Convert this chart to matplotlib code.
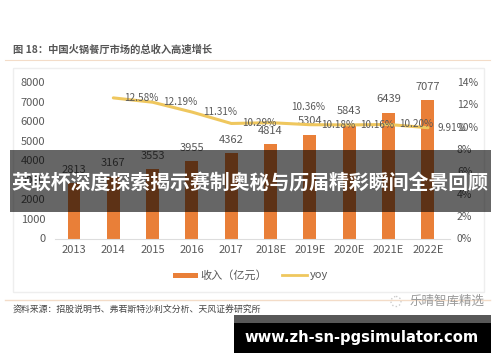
import matplotlib
matplotlib.use('Agg')
import matplotlib.pyplot as plt
from matplotlib.patches import Rectangle

plt.rcParams['font.family'] = ['Noto Sans CJK SC', 'DejaVu Sans']

years = ['2013', '2014', '2015', '2016', '2017', '2018E', '2019E', '2020E', '2021E', '2022E']
revenue = [2813, 3167, 3553, 3955, 4362, 4814, 5304, 5843, 6439, 7077]
yoy_years = years[1:]
yoy = [12.58, 12.19, 11.31, 10.29, 10.36, 10.18, 10.16, 10.20, 9.91]
# label offset from each line point, in points (the labels sit beside the line)
yoy_label_offsets = [(20, 0), (20, 0), (20, 0), (20, 0), (27, 11.5), (20, 0), (20, 0), (20, 0), (17, 0)]

W, H = 500, 362
TEXT = '#595959'
BAR = '#E97F38'
LINE = '#EFC75E'
PEACH = '#F3DCC8'

fig = plt.figure(figsize=(W / 100, H / 100), dpi=100, facecolor='white')

# main chart, placed by pixels
ax = fig.add_axes([55 / W, (H - 238.5) / H, 395 / W, 156.5 / H])
xs = list(range(len(years)))
ax.bar(xs, revenue, width=0.33, color=BAR)
for x, v in zip(xs, revenue):
    ax.annotate(str(v), (x, v), xytext=(0, 6), textcoords='offset points',
                ha='center', va='bottom', fontsize=8, color=TEXT)
ax.set_xlim(-0.483, 9.56)
ax.set_ylim(0, 8000)
ax.set_yticks(range(0, 8001, 1000))
ax.set_xticks(xs)
ax.set_xticklabels(years)
ax.tick_params(axis='y', length=0, pad=7, labelsize=8, labelcolor=TEXT)
ax.tick_params(axis='x', length=0, pad=5, labelsize=8, labelcolor=TEXT)
for s in ['top', 'left', 'right']:
    ax.spines[s].set_visible(False)
ax.spines['bottom'].set_color('#DDDDDD')

ax2 = ax.twinx()
ax2.set_ylim(0, 14)
ax2.set_yticks(range(0, 15, 2))
ax2.set_yticklabels([f'{v}%' for v in range(0, 15, 2)])
ax2.tick_params(axis='y', length=0, pad=5, labelsize=7.5, labelcolor=TEXT)
for s in ax2.spines.values():
    s.set_visible(False)
yoy_x = [years.index(y) for y in yoy_years]
ax2.plot(yoy_x, yoy, color=LINE, lw=2.2, solid_capstyle='round', solid_joinstyle='round')
for x, v, off in zip(yoy_x, yoy, yoy_label_offsets):
    ax2.annotate(f'{v:.2f}%', (x, v), xytext=off, textcoords='offset points',
                 ha='center', va='center', fontsize=7.2, color=TEXT, annotation_clip=False)

# page furniture and overlays in pixel coordinates
ov = fig.add_axes([0, 0, 1, 1], zorder=10)
ov.set_xlim(0, W)
ov.set_ylim(H, 0)
ov.axis('off')

ov.text(13, 50, '图 18：中国火锅餐厅市场的总收入高速增长', fontsize=7.4, fontweight='bold',
        color='#555555', va='center')
ov.plot([5, 490], [60, 60], color=PEACH, lw=0.8)
ov.add_patch(Rectangle((12.5, 68), 471, 224, fc='none', ec='#EEEEEE', lw=1))
ov.plot([5, 490], [299.5, 299.5], color=PEACH, lw=1)
ov.text(13, 310, '资料来源：招股说明书、弗若斯特沙利文分析、天风证券研究所', fontsize=6.4,
        color='#444444', va='center')

# legend
ov.add_patch(Rectangle((173, 272.5), 25, 5, fc=BAR, ec='none'))
ov.text(200, 275.5, '收入（亿元）', fontsize=8, color=TEXT, va='center')
ov.plot([282, 307], [275, 275], color=LINE, lw=2)
ov.text(310, 275.5, 'yoy', fontsize=8, color=TEXT, va='center')

# watermark
ov.add_patch(Rectangle((382, 295), 108, 12, fc='white', ec='none'))
ov.add_patch(plt.Circle((396, 301.5), 5, fc='none', ec='#CCCCCC', lw=1, ls=':'))
ov.text(410, 301, '乐晴智库精选', fontsize=9, color='#999999', va='center')

# dark banners on top of everything
ov.add_patch(Rectangle((10, 150), 480.5, 62, fc='black', alpha=0.6, ec='none'))
ov.text(250, 182, '英联杯深度探索揭示赛制奥秘与历届精彩瞬间全景回顾', fontsize=14.35,
        fontweight='bold', color='white', ha='center', va='center')
ov.add_patch(Rectangle((234, 315), 257, 8, fc='#585858', ec='none'))
ov.add_patch(Rectangle((234, 323), 257, 30, fc='black', ec='none'))
ov.text(362, 337.5, 'www.zh-sn-pgsimulator.com', fontsize=10.6, fontweight='bold',
        family='DejaVu Sans', color='white', ha='center', va='center')

fig.savefig('out.png', dpi=100)
